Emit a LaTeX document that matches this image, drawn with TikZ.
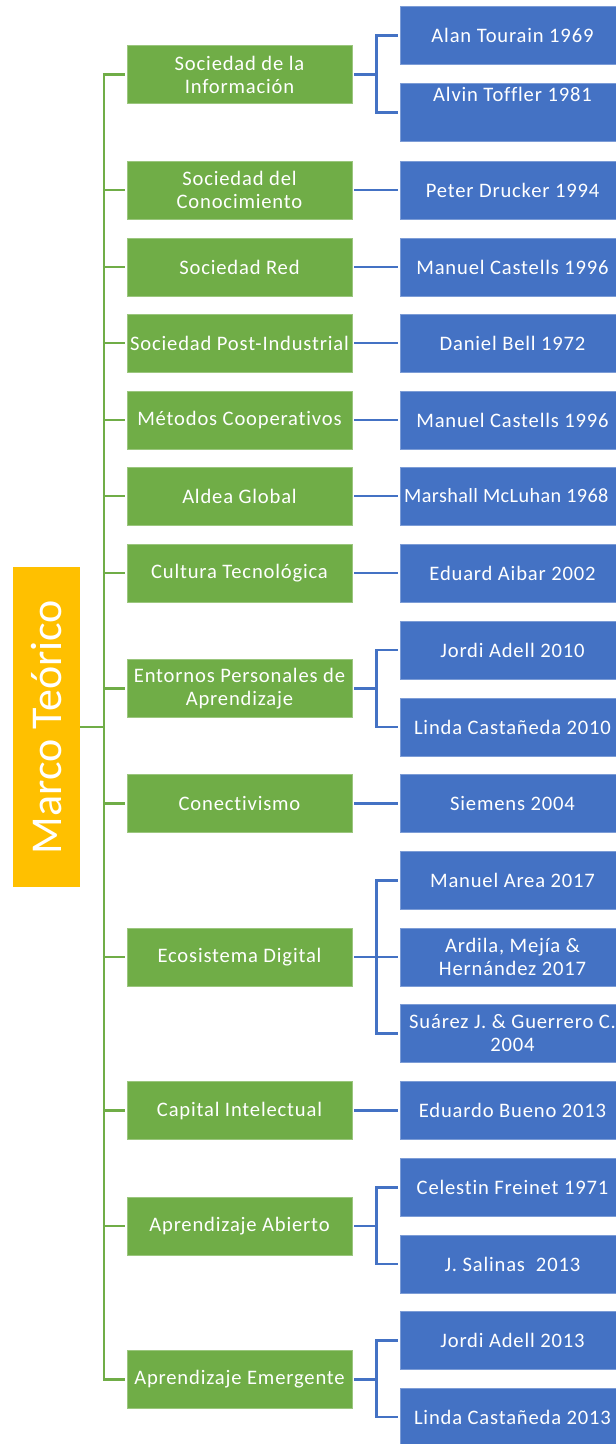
\documentclass[tikz,border=0pt]{standalone}
\usepackage{fontspec}
\setmainfont{Carlito}
\newfontfamily\boxfont[LetterSpace=4,Ligatures={NoCommon}]{Carlito}
\newfontfamily\tightfont[LetterSpace=2,Ligatures={NoCommon}]{Carlito}
\definecolor{gfill}{HTML}{70AD47}
\definecolor{bfill}{HTML}{4472C4}
\definecolor{ofill}{HTML}{FFC000}
\begin{document}
\begin{tikzpicture}[x=1pt,y=-1pt,
  gbox/.style={fill=gfill,draw=gfill!70!white,line width=0.6pt,text=white,minimum width=225,minimum height=58,inner sep=0pt,align=center,font=\boxfont\fontsize{20.6}{23}\selectfont},
  bbox/.style={fill=bfill,draw=bfill!70!white,line width=0.6pt,text=white,minimum width=225,minimum height=58,inner sep=0pt,align=center,font=\boxfont\fontsize{20.6}{23}\selectfont},
  gline/.style={draw=gfill,line width=2.4pt},
  bline/.style={draw=bfill,line width=2.4pt}]
\useasboundingbox (0,0) rectangle (616,1444);
\clip (0,0) rectangle (616,1444);
\fill[white] (0,0) rectangle (616,1444);
% root
\node[fill=ofill,minimum width=67,minimum height=320,inner sep=0pt] (root) at (46.5,727) {};
\node[rotate=90,text=white,font=\fontsize{44}{48}\selectfont] (roottxt) at (46.5,727) {Marco Teórico};
% green nodes
\node[gbox] (g1) at (239.5,74.5) {Sociedad de la\\Información};
\node[gbox] (g2) at (239.5,190) {Sociedad del\\Conocimiento};
\node[gbox] (g3) at (239.5,267) {Sociedad Red};
\node[gbox] (g4) at (239.5,343) {Sociedad Post-Industrial};
\node[gbox] (g5) at (239.5,420) {Métodos Cooperativos};
\node[gbox] (g6) at (239.5,496) {Aldea Global};
\node[gbox] (g7) at (239.5,573) {Cultura Tecnológica};
\node[gbox] (g8) at (239.5,688.5) {Entornos Personales de\\Aprendizaje};
\node[gbox] (g9) at (239.5,803.5) {Conectivismo};
\node[gbox] (g10) at (239.5,957) {Ecosistema Digital};
\node[gbox] (g11) at (239.5,1110.5) {Capital Intelectual};
\node[gbox] (g12) at (239.5,1226) {Aprendizaje Abierto};
\node[gbox] (g13) at (239.5,1379.5) {Aprendizaje Emergente};
% blue nodes
\node[bbox] (b1) at (512.5,35.5) {Alan Tourain 1969};
\node[bbox] (b2) at (512.5,112.5) {};
\node[text=white,font=\boxfont\fontsize{20.6}{23}\selectfont,anchor=north,inner sep=0pt] (b2t) at (512.5,87) {Alvin Toffler 1981};
\node[bbox] (b3) at (512.5,190) {Peter Drucker 1994};
\node[bbox] (b4) at (512.5,267) {Manuel Castells 1996};
\node[bbox] (b5) at (512.5,343) {Daniel Bell 1972};
\node[bbox] (b6) at (512.5,420) {Manuel Castells 1996};
\node[bbox] (b7) at (512.5,496) {};
\node[text=white,font=\tightfont\fontsize{20.2}{23}\selectfont,anchor=west,inner sep=0pt] (b7t) at (404,496) {Marshall McLuhan 1968};
\node[bbox] (b8) at (512.5,573) {Eduard Aibar 2002};
\node[bbox] (b9) at (512.5,650) {Jordi Adell 2010};
\node[bbox] (b10) at (512.5,727) {Linda Castañeda 2010};
\node[bbox] (b11) at (512.5,803.5) {Siemens 2004};
\node[bbox] (b12) at (512.5,880.5) {Manuel Area 2017};
\node[bbox] (b13) at (512.5,957) {Ardila, Mejía \&\\Hernández 2017};
\node[bbox] (b14) at (512.5,1033.5) {Suárez J. \& Guerrero C.\\2004};
\node[bbox] (b15) at (512.5,1110.5) {Eduardo Bueno 2013};
\node[bbox] (b16) at (512.5,1187.5) {Celestin Freinet 1971};
\node[bbox] (b17) at (512.5,1264) {J. Salinas\ \ 2013};
\node[bbox] (b18) at (512.5,1340.5) {Jordi Adell 2013};
\node[bbox] (b19) at (512.5,1417) {Linda Castañeda 2013};
% trunk
\coordinate (tt) at (104,74.5);
\coordinate (tb) at (104,1379.5);
\draw[gline] ([yshift=1.2pt]tt) -- ([yshift=-1.2pt]tb);
\draw[gline] (root.east) -- (root.east -| tt);
\foreach \g in {g1,g2,g3,g4,g5,g6,g7,g8,g9,g10,g11,g12,g13}{
  \draw[gline] ([xshift=-1.2pt]\g.west -| tt) -- ([xshift=-2pt]\g.west);
}
% blue connectors: single
\foreach \g/\b in {g2/b3,g3/b4,g4/b5,g5/b6,g6/b7,g7/b8,g9/b11,g11/b15}{
  \draw[bline] ([xshift=2pt]\g.east) -- ([xshift=-2pt]\b.west);
}
% blue connectors: multiple
\foreach \g/\bs in {g1/{b1,b2},g8/{b9,b10},g10/{b12,b13,b14},g12/{b16,b17},g13/{b18,b19}}{
  \draw[bline] ([xshift=2pt]\g.east) -- ([xshift=24pt]\g.east);
  \foreach \b in \bs {
    \draw[bline] ([xshift=22.8pt]\g.east |- \b.west) -- ([xshift=-2pt]\b.west);
  }
}
\draw[bline] ([xshift=24pt]g1.east |- b1.west) -- ([xshift=24pt]g1.east |- b2.west);
\draw[bline] ([xshift=24pt]g8.east |- b9.west) -- ([xshift=24pt]g8.east |- b10.west);
\draw[bline] ([xshift=24pt]g10.east |- b12.west) -- ([xshift=24pt]g10.east |- b14.west);
\draw[bline] ([xshift=24pt]g12.east |- b16.west) -- ([xshift=24pt]g12.east |- b17.west);
\draw[bline] ([xshift=24pt]g13.east |- b18.west) -- ([xshift=24pt]g13.east |- b19.west);
\end{tikzpicture}
\end{document}
